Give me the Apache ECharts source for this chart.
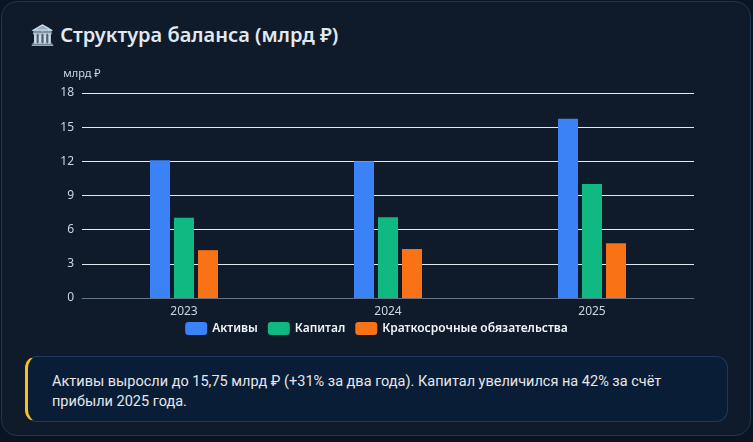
<!DOCTYPE html>
<html>
<head>
<meta charset="utf-8">
<script src="https://cdn.jsdelivr.net/npm/echarts@6/dist/echarts.min.js"></script>
<style>
    html, body { margin: 0; padding: 0; width: 753px; height: 442px; background: #0b1420; overflow: hidden; font-family: "Noto Sans", sans-serif; }
    .card { position: absolute; left: 1px; top: 1px; width: 750px; height: 435px; box-sizing: border-box; border: 1px solid #1f3552; border-radius: 16px; background: #0f1b2a; }
    .title { position: absolute; left: 30px; top: 21px; font-size: 20px; font-weight: 600; color: #e2e8f0; }
    #chart { position: absolute; left: 0; top: 60px; width: 753px; height: 285px; }
    .note { position: absolute; left: 25px; top: 356px; width: 703px; height: 66px; box-sizing: border-box; padding: 15px 45px 0 24px; border: 1px solid #1e3a60; border-left: 3px solid #fbbf24; border-radius: 12px; background: #0a1d37; color: #e5e7eb; font-family: Roboto, sans-serif; font-size: 14.5px; line-height: 20px; }
</style>
</head>
<body>
<div class="card"></div>
<div class="title">🏛️ Структура баланса (млрд ₽)</div>
<div id="chart"></div>
<div class="note">Активы выросли до 15,75 млрд ₽ (+31% за два года). Капитал увеличился на 42% за счёт прибыли 2025 года.</div>
<script>
    // данные
    var years = ['2023', '2024', '2025'];
    var assets = [12.1, 12.0, 15.75];
    var equity = [7.05, 7.1, 10.0];
    var shortLiab = [4.2, 4.3, 4.8];

    var myChart = echarts.init(document.getElementById('chart'));

    var option = {
        animation: false,
        textStyle: { fontFamily: 'Noto Sans' },
        grid: { left: 82, right: 59, top: 33, bottom: 47 },
        legend: {
            top: 257,
            left: 'center',
            itemWidth: 22,
            itemHeight: 13,
            itemGap: 10,
            textStyle: { color: '#f1f5f9', fontSize: 12, fontWeight: 600 },
            data: ['Активы', 'Капитал', 'Краткосрочные обязательства']
        },
        xAxis: {
            type: 'category',
            data: years,
            axisLine: { lineStyle: { color: '#64748b' } },
            axisTick: { lineStyle: { color: '#64748b' } },
            axisLabel: { color: '#cbd5e1', fontSize: 12 }
        },
        yAxis: {
            type: 'value',
            name: 'млрд ₽',
            nameGap: 14,
            nameTextStyle: { color: '#cbd5e1', fontSize: 11, align: 'center' },
            min: 0,
            max: 18,
            interval: 3,
            axisLabel: { color: '#cbd5e1', fontSize: 12 },
            splitLine: { lineStyle: { color: '#e2e8f0', width: 1 } }
        },
        series: [
            { name: 'Активы', type: 'bar', data: assets, barWidth: 20, barGap: '20%', itemStyle: { color: '#3b82f6' } },
            { name: 'Капитал', type: 'bar', data: equity, barWidth: 20, barGap: '20%', itemStyle: { color: '#10b981' } },
            { name: 'Краткосрочные обязательства', type: 'bar', data: shortLiab, barWidth: 20, barGap: '20%', itemStyle: { color: '#f97316' } }
        ]
    };

    myChart.setOption(option);
</script>
</body>
</html>
